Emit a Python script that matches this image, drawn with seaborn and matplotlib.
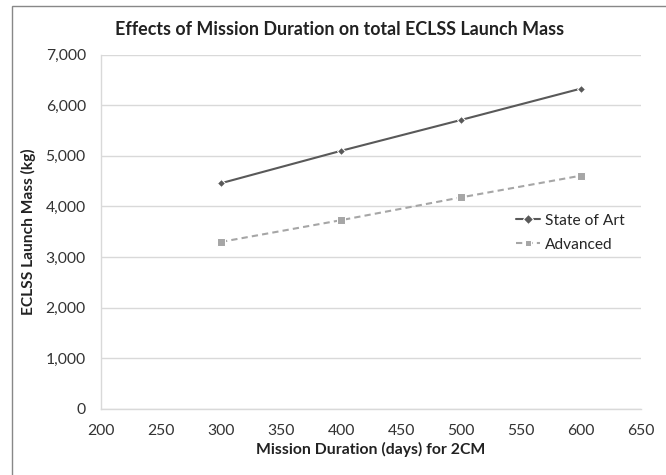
import matplotlib
matplotlib.use("Agg")
import matplotlib.pyplot as plt
import seaborn as sns
import pandas as pd
from matplotlib.patches import Rectangle

days = [300, 400, 500, 600]
state_of_art = [4460, 5100, 5710, 6330]
advanced = [3300, 3730, 4180, 4610]
x_ticks = [200, 250, 300, 350, 400, 450, 500, 550, 600, 650]
y_ticks = [0, 1000, 2000, 3000, 4000, 5000, 6000, 7000]

df = pd.DataFrame({
    "days": days * 2,
    "mass": state_of_art + advanced,
    "series": ["State of Art"] * len(days) + ["Advanced"] * len(days),
})

sns.set_theme(style="white")
plt.rcParams['font.family'] = ['Lato', 'DejaVu Sans']

fig = plt.figure(figsize=(6.66, 4.75), dpi=100)
ax = fig.add_axes([0.1517, 0.139, 0.811, 0.746])

sns.lineplot(data=df, x="days", y="mass", hue="series", style="series",
             palette={"State of Art": "#595959", "Advanced": "#a6a6a6"},
             dashes={"State of Art": "", "Advanced": (3, 2)},
             markers={"State of Art": "D", "Advanced": "s"},
             markersize=5, linewidth=1.5, ax=ax, legend=True)
ax.lines[0].set_markersize(4.5)
ax.lines[1].set_markersize(6)

ax.set_xlim(200, 650)
ax.set_ylim(0, 7000)
ax.set_xticks(x_ticks)
ax.set_yticks(y_ticks)
ax.set_yticklabels([f"{v:,}" for v in y_ticks])
ax.tick_params(axis='both', labelsize=11.3, colors="#333333", length=0)
ax.tick_params(axis='x', pad=11)
ax.tick_params(axis='y', pad=11)
ax.yaxis.grid(True, color="#d9d9d9", linewidth=1)
ax.xaxis.grid(False)
for s in ["top", "right"]:
    ax.spines[s].set_visible(False)
for s in ["left", "bottom"]:
    ax.spines[s].set_color("#d9d9d9")
    ax.spines[s].set_linewidth(1)

ax.set_xlabel("Mission Duration (days) for 2CM", fontsize=11.3, fontweight="bold",
              color="#222222", labelpad=3)
ax.set_ylabel("ECLSS Launch Mass (kg)", fontsize=11.2, fontweight="bold",
              color="#222222", labelpad=7)
fig.text(0.51, 0.937, "Effects of Mission Duration on total ECLSS Launch Mass",
         ha="center", va="center", fontsize=12.9, fontweight="bold", color="#222222")

leg = ax.legend(loc="center left", bbox_to_anchor=(0.743, 0.497), frameon=False,
                fontsize=11.2, handlelength=1.55, handletextpad=0.3, labelspacing=0.65)
leg.set_title(None)

fig.add_artist(Rectangle((0.018, -0.01), 1.0, 0.998, transform=fig.transFigure,
                         fill=False, edgecolor="#888888", linewidth=1))

fig.savefig("out.png", dpi=100)
